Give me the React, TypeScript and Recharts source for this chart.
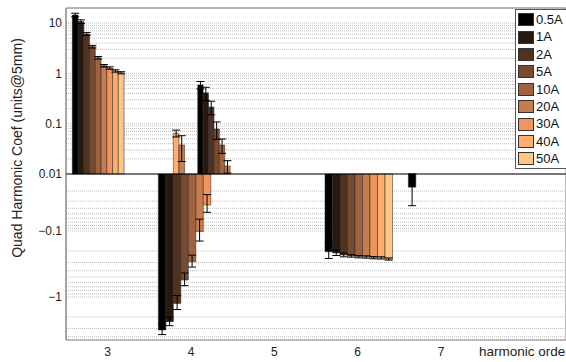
import { BarChart, Bar, XAxis, YAxis, CartesianGrid, ErrorBar, ReferenceLine, ReferenceArea, Legend } from 'recharts';

const FONT = '"Liberation Sans", Arial, Helvetica, sans-serif';

const currents = ['0.5A', '1A', '2A', '5A', '10A', '20A', '30A', '40A', '50A'];
// matlab "copper" map, 9 steps
const copper = ['#000000', '#281910', '#503220', '#784B30', '#9F643F', '#C77C4F', '#EF955F', '#FFAE6F', '#FFC77F'];
const harmonics = ['3', '4', '5', '6', '7', '8'];

// harmonic 3 (narrow bars, left of tick)
const h3 = [14.5, 10.7, 6.07, 3.4, 2.05, 1.42, 1.28, 1.12, 1.03];
const h3Err = [1.2, 0.9, 0.4, 0.2, 0.12, 0.08, 0.07, 0.06, 0.05];
// harmonic 4, negative group (wide bars)
const h4 = [-3.16, -2.37, -1.25, -0.553, -0.292, -0.102, -0.035, null, null];
const h4Err = [0.55, 0.35, 0.3, 0.12, 0.06, 0.04, 0.012, 0, 0];
// harmonic 4, positive group (narrow bars, right of tick)
const h4Pos = [0.59, 0.41, 0.215, 0.0785, 0.0377, 0.0144, 0.008, null, null];
const h4PosErr = [0.1, 0.12, 0.065, 0.03, 0.012, 0.004, 0.004, 0, 0];
// harmonic 4, two small positive bars left of tick
const h4SideCurrents = ['40A', '20A'];
const h4Side = [0.0645, 0.0377];
const h4SideErr = [0.01, 0.02];
// harmonic 6 and 7 (wide bars)
const h6 = [-0.206, -0.215, -0.231, -0.239, -0.245, -0.248, -0.254, -0.256, -0.266];
const h6Err = [0.055, 0.02, 0.015, 0.01, 0.01, 0.01, 0.01, 0.01, 0.01];
const h7 = [-0.017, -0.008, -0.005, 0.003, 0.004, 0.006, 0.002, 0.003, 0.002];
const h7Err = [0.019, 0.008, 0.006, 0.002, 0.002, 0.006, 0.002, 0.002, 0.002];

const yTickValues = [10, 1, 0.1, 0.01, -0.1, -1];
const yTickLabels = ['10', '1', '0.1', '0.01', '\u22120.1', '\u22121'];

// split log axis: 0.01 is the baseline, decades in px units
const FLOOR = 0.01;
const POS_DEC = 50.3;
const NEG_DEC1 = 57;
const NEG_DEC = 66;
const Y_MAX = 166;
const Y_MIN = -166;

function tf(v: number | null) {
  if (v == null) return null;
  const a = Math.abs(v);
  if (a <= FLOOR) return 0;
  const d = Math.log10(a / FLOOR);
  if (v > 0) return POS_DEC * d;
  return -(d <= 1 ? NEG_DEC1 * d : NEG_DEC1 + NEG_DEC * (d - 1));
}

function errPair(v: number, e: number) {
  const t = tf(v) as number;
  return [t - (tf(v - e) as number), (tf(v + e) as number) - t];
}

const gridValues: number[] = [];
[0.01, 0.1, 1, 10].forEach((dec) => {
  for (let k = 1; k <= 9; k++) if (k * dec <= 20) gridValues.push(k * dec);
});
[0.01, 0.1, 1].forEach((dec) => {
  for (let k = 1; k <= 9; k++) {
    const v = -k * dec;
    if (v !== -FLOOR && v >= -4.5) gridValues.push(v);
  }
});
const gridTicks = gridValues.map((v) => tf(v) as number).sort((a, b) => a - b);
const labelMap = new Map<number, string>();
yTickValues.forEach((v, i) => labelMap.set(tf(v) as number, yTickLabels[i]));

type BarSet = {
  id: string;
  shift: number;
  size: number;
  names: string[];
  items: { h: string; values: (number | null)[]; errs: number[] }[];
};

const sets: BarSet[] = [
  { id: 'a', shift: -9.7, size: 5.75, names: currents, items: [{ h: '3', values: h3, errs: h3Err }] },
  {
    id: 'w',
    shift: 1,
    size: 7.5,
    names: currents,
    items: [
      { h: '4', values: h4, errs: h4Err },
      { h: '6', values: h6, errs: h6Err },
      { h: '7', values: h7, errs: h7Err },
    ],
  },
  { id: 'c', shift: 31.4, size: 5.4, names: currents, items: [{ h: '4', values: h4Pos, errs: h4PosErr }] },
  { id: 'd', shift: -12, size: 5.6, names: h4SideCurrents, items: [{ h: '4', values: h4Side, errs: h4SideErr }] },
];

const rows = harmonics.map((h) => {
  const row: Record<string, any> = { h };
  sets.forEach((set) =>
    set.items
      .filter((it) => it.h === h)
      .forEach((it) =>
        it.values.forEach((v, i) => {
          if (v == null) return;
          row[`${set.id}${i}`] = tf(v);
          row[`${set.id}${i}e`] = errPair(v, it.errs[i]);
        })
      )
  );
  return row;
});

// tick text baseline sits ~15px under the plot's bottom edge
const XTick = ({ x, payload }: any) => {
  const last = payload.value === '8';
  return (
    <text x={x} y={355.5} textAnchor="middle" fontFamily={FONT} fontSize={last ? 13.5 : 12} fill="#222">
      {last ? 'harmonic order' : payload.value}
    </text>
  );
};

const YTitle = () => (
  <text x={22} y={148} transform="rotate(-90 22 148)" textAnchor="middle" fontFamily={FONT} fontSize={14} fill="#222">
    Quad Harmonic Coef (units@5mm)
  </text>
);

const LegendBox = () => (
  <div style={{ border: '1px solid #555', background: '#fff', padding: '1px 0 0 2px', fontFamily: FONT, fontSize: 13, width: 60, lineHeight: '17.4px' }}>
    {currents.map((c, i) => (
      <div key={c} style={{ display: 'flex', alignItems: 'center', height: 17.4 }}>
        <span style={{ display: 'inline-block', width: 16, height: 13, background: copper[i], border: '1px solid #333', boxSizing: 'border-box', marginRight: 2 }} />
        <span style={{ color: '#111' }}>{c}</span>
      </div>
    ))}
  </div>
);

export default function App() {
  return (
    <div style={{ position: 'absolute', left: 0, top: 0, width: 566, height: 362, background: '#fff' }}>
      <BarChart width={566} height={362} data={rows} margin={{ top: 8, right: 0, bottom: 0, left: 0 }} barGap={0} barCategoryGap={0}>
        <CartesianGrid vertical={false} xAxisId="h" stroke="#bdbdbd" strokeDasharray="1 1" />
        <XAxis xAxisId="h" dataKey="h" interval={0} height={22} tickLine={false} tickSize={0} axisLine={{ stroke: '#888' }} tick={<XTick />} />
        {sets.map((s) => (
          <XAxis key={s.id} xAxisId={s.id} dataKey="h" hide padding={{ left: s.shift, right: -s.shift }} />
        ))}
        <YAxis
          type="number"
          domain={[Y_MIN, Y_MAX]}
          allowDataOverflow
          ticks={gridTicks}
          interval={0}
          width={66}
          tickLine={false}
          tickSize={0}
          tickMargin={4}
          axisLine={{ stroke: '#888' }}
          tick={{ fontSize: 12, fontFamily: FONT, fill: '#222' }}
          tickFormatter={(t: number) => labelMap.get(t) ?? ''}
          label={<YTitle />}
        />
        <ReferenceArea xAxisId="h" y1={Y_MIN} y2={Y_MAX} fill="none" stroke="#888" />
        {sets.map((s) =>
          s.names.map((name, i) => (
            <Bar
              key={`${s.id}${i}`}
              xAxisId={s.id}
              dataKey={`${s.id}${i}`}
              name={name}
              fill={copper[currents.indexOf(name)]}
              stroke="#222"
              strokeWidth={0.5}
              barSize={s.size}
              isAnimationActive={false}
            >
              <ErrorBar dataKey={`${s.id}${i}e`} direction="y" width={4} stroke="#000" strokeWidth={1} />
            </Bar>
          ))
        )}
        <ReferenceLine xAxisId="h" y={0} stroke="#000" strokeWidth={1} />
        <Legend
          content={<LegendBox />}
          layout="horizontal"
          verticalAlign="middle"
          align="center"
          wrapperStyle={{ left: 515, top: 9, width: 62, height: 'auto' }}
        />
      </BarChart>
    </div>
  );
}
